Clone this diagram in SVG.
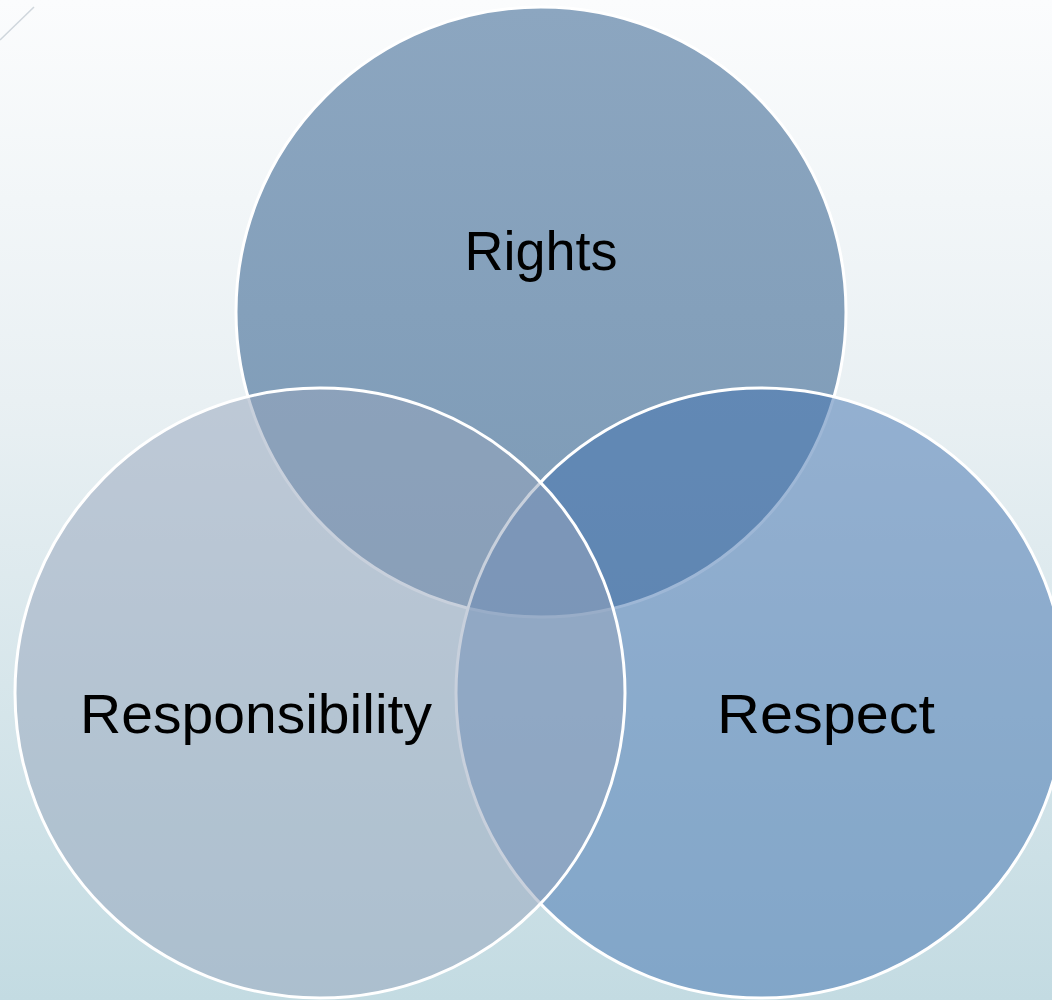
<svg xmlns="http://www.w3.org/2000/svg" width="1052" height="1000" viewBox="0 0 1052 1000">
  <defs>
    <linearGradient id="bg" x1="0" y1="0" x2="0" y2="1">
      <stop offset="0" stop-color="#fbfcfd"/>
      <stop offset="0.4" stop-color="#e9f0f3"/>
      <stop offset="1" stop-color="#c3dbe2"/>
    </linearGradient>
    <linearGradient id="gRights" x1="0" y1="0" x2="0" y2="1">
      <stop offset="0" stop-color="#8ca6c0"/>
      <stop offset="1" stop-color="#7c9ab6"/>
    </linearGradient>
    <style>
      .c { stroke: #ffffff; stroke-width: 3; }
      .lbl { font-family: "Liberation Sans", Arial, sans-serif; font-size: 56px; fill: #000000; text-anchor: middle; }
    </style>
  </defs>
  <rect x="0" y="0" width="1052" height="1000" fill="url(#bg)"/>
  <line x1="0" y1="40" x2="34" y2="7" stroke="#cfd6dc" stroke-width="1.5"/>
  <g id="rights">
    <circle class="c" cx="541" cy="312" r="305" fill="url(#gRights)"/>
    <text class="lbl" x="541" y="270" textLength="153" lengthAdjust="spacingAndGlyphs">Rights</text>
  </g>
  <g id="respect">
    <circle class="c" cx="761" cy="693" r="305" fill="#4575b1" fill-opacity="0.52"/>
    <text class="lbl" x="826" y="733" textLength="218" lengthAdjust="spacingAndGlyphs">Respect</text>
  </g>
  <g id="responsibility">
    <circle class="c" cx="320" cy="693" r="305" fill="#96a5bc" fill-opacity="0.52"/>
    <text class="lbl" x="256" y="733" textLength="352" lengthAdjust="spacingAndGlyphs">Responsibility</text>
  </g>
  <g id="connectors"/>
</svg>
